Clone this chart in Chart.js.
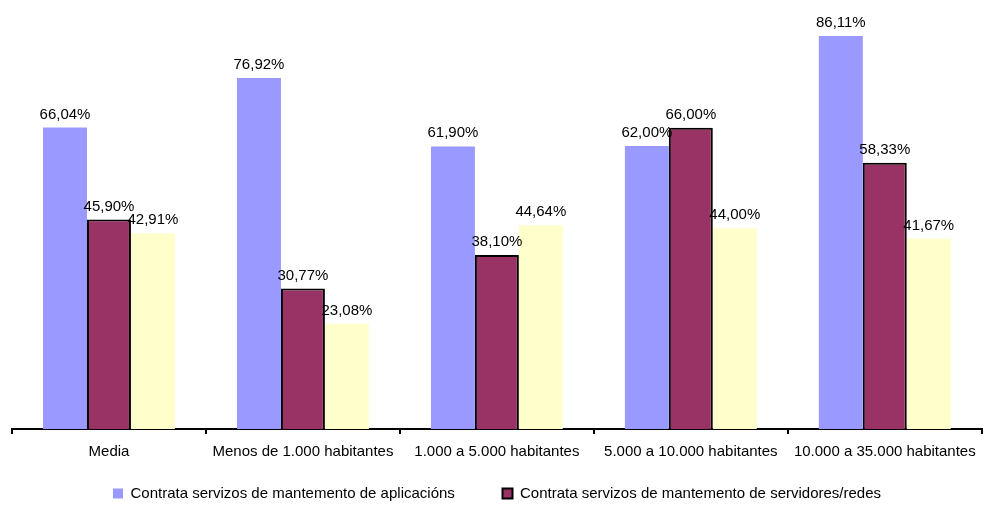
<!DOCTYPE html>
<html>
<head>
<meta charset="utf-8">
<script src="https://cdn.jsdelivr.net/npm/chart.js@4"></script>
<style>
  html, body { margin: 0; padding: 0; background: #fff; }
  #wrap { width: 985px; height: 507px; position: relative; }
</style>
</head>
<body>
<div id="wrap"><canvas id="chart"></canvas></div>
<script>
// Data
const categories = ['Media', 'Menos de 1.000 habitantes', '1.000 a 5.000 habitantes', '5.000 a 10.000 habitantes', '10.000 a 35.000 habitantes'];
const seriesNames = [
    'Contrata servizos de mantemento de aplicacións',
    'Contrata servizos de mantemento de servidores/redes',
    'Contrata servizos de mantemento de equipos'
];
const aplicacions = [66.04, 76.92, 61.90, 62.00, 86.11];
const servidores = [45.90, 30.77, 38.10, 66.00, 58.33];
const equipos = [42.91, 23.08, 44.64, 44.00, 41.67];

const fontFamily = '"Liberation Sans", Arial, sans-serif';

// Value labels above bars
const valueLabels = {
    id: 'valueLabels',
    afterDatasetsDraw(chart) {
        const ctx = chart.ctx;
        ctx.save();
        ctx.font = '15px ' + fontFamily;
        ctx.fillStyle = '#000';
        ctx.textAlign = 'center';
        ctx.textBaseline = 'alphabetic';
        chart.data.datasets.forEach((ds, i) => {
            chart.getDatasetMeta(i).data.forEach((bar, j) => {
                const txt = ds.data[j].toFixed(2).replace('.', ',') + '%';
                ctx.fillText(txt, bar.x, bar.y - 9);
            });
        });
        ctx.restore();
    }
};

new Chart(document.getElementById('chart'), {
    type: 'bar',
    data: {
        labels: categories,
        datasets: [
            {
                label: seriesNames[0],
                data: aplicacions,
                backgroundColor: '#9999FF',
                borderWidth: 0
            },
            {
                label: seriesNames[1],
                data: servidores,
                backgroundColor: '#993366',
                borderColor: '#000',
                borderWidth: 2
            },
            {
                label: seriesNames[2],
                data: equipos,
                backgroundColor: '#FFFFCC',
                borderWidth: 0
            }
        ]
    },
    options: {
        responsive: true,
        maintainAspectRatio: false,
        animation: false,
        layout: { padding: { left: 12, right: 3, top: 0, bottom: -4 } },
        datasets: {
            bar: { categoryPercentage: 0.68, barPercentage: 1.0 }
        },
        plugins: {
            legend: {
                position: 'bottom',
                labels: {
                    font: { family: fontFamily, size: 15 },
                    color: '#000',
                    boxWidth: 10,
                    boxHeight: 10,
                    padding: 6,
                    filter: (item) => item.datasetIndex < 2,
                    generateLabels: (chart) => {
                        const items = Chart.defaults.plugins.legend.labels.generateLabels(chart);
                        // extra room after the first entry, like the original
                        items[0].text = items[0].text + '          ';
                        return items;
                    }
                }
            },
            tooltip: { enabled: false }
        },
        scales: {
            y: {
                display: false,
                min: 0,
                max: 94
            },
            x: {
                grid: {
                    offset: true,
                    drawOnChartArea: false,
                    color: '#000',
                    lineWidth: 2,
                    tickLength: 5
                },
                border: { color: '#000', width: 2 },
                ticks: {
                    font: { family: fontFamily, size: 15 },
                    color: '#000',
                    padding: 9,
                    maxRotation: 0
                },
                afterFit: (scale) => { scale.height = 51; }
            }
        }
    },
    plugins: [valueLabels]
});
</script>
</body>
</html>
